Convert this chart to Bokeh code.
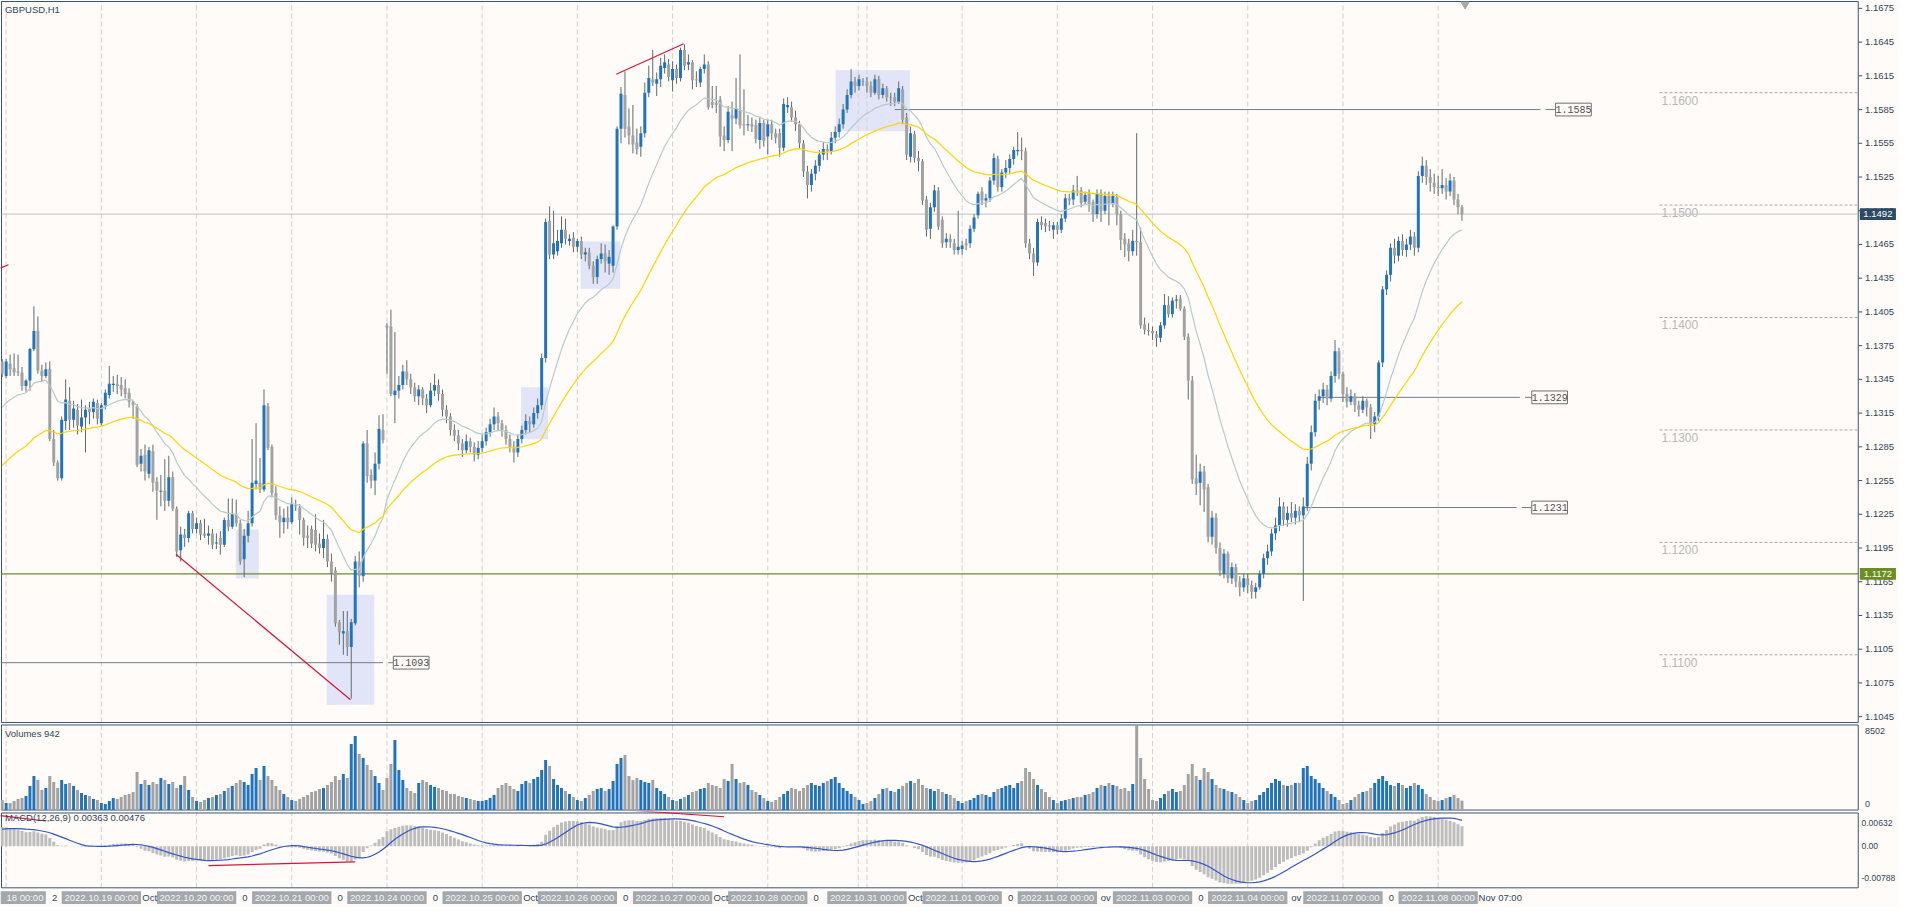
import numpy as np
from bokeh.plotting import figure
from bokeh.layouts import column
from bokeh.models import ColumnDataSource, Range1d
from bokeh.core.properties import value
from bokeh.embed import file_html
from bokeh.resources import INLINE

# ---------------- data (GBPUSD H1), prices in pips above 1.1000: (open, high, low, close)
oct17 = [(361, 363, 347, 350)]
oct18 = [
    (348,363,346,361),(359,367,348,354),(355,368,348,351),(352,367,348,351),(351,356,335,339),(339,345,334,344),
    (344,373,335,372),(372,410,370,388),(388,401,350,353),(353,358,343,348),(348,360,346,354),(354,361,290,292),
    (292,300,268,271),(271,273,255,257),(257,312,255,309),(308,345,300,327),(326,338,300,309),(309,326,302,319),
    (318,323,296,304),(303,327,298,311),(311,322,280,318),(319,325,305,316),(316,328,310,325),(324,327,305,310)]
oct19 = [
    (306,324,304,322),(322,336,318,333),(331,357,328,341),(340,348,334,341),(341,349,332,339),(340,347,330,336),
    (337,345,328,332),(333,337,320,325),(325,326,310,322),(321,323,267,269),(270,283,263,277),(278,287,255,263),
    (261,285,257,282),(281,287,245,253),(254,258,220,246),(245,260,232,246),(246,274,228,237),(237,277,232,258),
    (258,263,228,230),(230,232,187,192),(193,214,183,207),(207,212,196,204),(204,228,200,226),(226,228,208,212)]
oct20 = [
    (212,222,208,217),(217,220,202,207),(208,221,204,206),(206,215,198,208),(208,212,194,198),(199,208,194,200),
    (204,210,189,198),(198,222,196,220),(220,239,210,214),(214,239,212,225),(225,238,214,217),(217,220,180,183),
    (185,212,169,206),(206,228,200,217),(217,292,214,253),(252,306,247,255),(253,275,244,247),(247,336,245,322),
    (321,324,282,284),(285,287,240,244),(244,250,220,224),(224,232,204,218),(218,230,208,222),(222,232,212,218)]
oct21 = [
    (218,240,216,234),(233,238,228,232),(231,234,207,220),(220,222,197,204),(206,215,195,204),(212,215,195,199),
    (211,225,192,198),(199,208,190,195),(195,220,186,203),(203,207,178,183),(183,190,165,173),(175,178,125,128),
    (129,131,109,120),(119,139,100,121),(121,139,99,107),(107,132,61,129),(128,188,126,183),(183,192,160,170),
    (170,290,165,288),(288,300,253,259),(260,265,248,255),(255,280,242,270),(270,313,265,301),(300,314,288,291)]
oct24 = [
    (393,395,350,391),(392,407,330,332),(331,387,306,335),(335,348,328,340),(340,358,336,352),(352,362,340,345),
    (345,350,332,338),(338,342,325,330),(330,340,322,336),(336,338,322,328),(328,332,315,322),(322,342,320,335),
    (335,350,330,340),(340,345,326,332),(332,336,312,318),(318,322,306,312),(312,315,295,300),(300,305,290,295),
    (295,300,282,288),(288,292,276,282),(282,296,279,290),(290,293,280,285),(285,289,272,278),(278,290,274,284)]
oct25 = [
    (284,296,280,290),(290,302,286,298),(298,310,294,305),(305,320,300,312),(312,316,300,306),(306,309,294,300),
    (300,304,287,292),(292,296,280,285),(285,290,271,280),(280,296,276,292),(292,304,288,300),(300,314,296,308),
    (308,312,298,305),(305,320,302,315),(315,328,310,322),(322,368,318,364),(364,488,360,485),(486,499,452,456),
    (456,495,452,466),(459,478,455,468),(466,490,462,478),(478,488,465,470),(468,474,464,470),(471,476,458,463)]
oct26 = [
    (463,470,458,468),(468,472,452,456),(456,462,450,458),(458,462,443,446),(446,450,430,436),(436,455,430,452),
    (452,466,448,457),(457,465,440,450),(448,460,438,454),(446,482,440,481),(481,570,478,568),(568,605,555,599),
    (598,619,560,568),(570,586,554,562),(562,589,546,554),(556,568,545,550),(552,570,543,564),(564,609,560,600),
    (600,624,596,613),(612,638,606,609),(608,618,597,612),(612,631,605,624),(622,634,617,627),(625,630,610,614)]
oct27 = [
    (611,628,601,621),(621,625,608,613),(613,640,610,638),(638,643,620,624),(625,634,620,627),(627,629,603,611),
    (612,619,605,611),(609,623,605,621),(621,634,617,625),(625,628,585,587),(592,606,586,589),(591,606,582,589),
    (594,597,552,561),(562,570,548,558),(558,588,555,583),(580,592,548,577),(577,613,572,586),(584,634,568,571),
    (572,603,562,571),(571,580,566,572),(572,578,565,570),(571,576,555,559),(558,578,550,573),(573,576,552,557)]
oct28 = [
    (561,576,545,572),(572,576,558,564),(564,568,555,560),(564,568,543,551),(551,595,548,590),(587,596,582,589),
    (587,592,574,578),(578,584,566,572),(572,575,550,555),(555,558,525,530),(530,535,506,518),(518,532,512,528),
    (528,540,522,535),(535,549,530,545),(545,556,540,550),(550,554,540,548),(548,565,545,560),(560,570,555,565),
    (565,577,560,572),(572,590,568,585),(585,603,582,598),(598,621,595,610),(610,614,600,606),(606,616,602,612)]
sun30 = [(610, 613, 606, 610)]
oct31 = [
    (610,614,600,606),(606,610,596,600),(600,616,598,612),(612,615,594,598),(598,608,595,604),(604,606,592,596),
    (596,600,588,596),(596,600,588,592),(592,610,590,604),(603,606,572,576),(578,582,540,545),(543,570,538,564),
    (563,566,538,542),(542,548,530,539),(539,541,500,504),(505,508,472,478),(479,502,470,498),(498,518,494,513),
    (513,516,478,481),(487,490,462,466),(467,475,462,470),(470,474,462,467),(466,470,456,460),(460,495,456,463)]
nov01 = [
    (461,468,456,464),(466,470,460,464),(466,482,462,479),(479,492,476,489),(491,512,488,510),(512,516,500,504),
    (504,510,498,506),(506,525,503,522),(522,546,518,542),(541,544,512,516),(516,532,512,529),(529,540,524,533),
    (533,545,528,541),(541,552,536,549),(548,565,544,549),(549,560,540,548),(548,551,462,466),(466,470,452,457),
    (457,462,437,449),(449,488,446,485),(485,490,478,482),(484,488,476,481),(482,486,477,481),(478,485,470,482)]
nov02 = [
    (482,485,474,478),(478,492,475,488),(488,510,485,506),(506,510,500,504),(505,518,500,513),(513,526,508,512),
    (513,516,498,502),(503,512,500,509),(510,514,494,501),(503,505,485,492),(492,514,488,510),(510,514,485,495),
    (495,512,492,508),(508,512,482,501),(501,512,498,508),(507,510,482,492),(492,495,460,469),(470,475,454,465),
    (466,470,450,459),(459,478,455,468),(468,564,455,467),(467,480,390,393),(394,400,385,389),(389,395,384,388)]
nov03 = [
    (388,392,380,386),(385,388,374,382),(382,396,378,393),(393,421,390,411),(411,419,400,403),(403,418,400,415),
    (415,420,408,416),(417,420,406,408),(408,410,380,383),(383,386,327,344),(344,348,252,256),(257,278,242,252),
    (253,270,233,263),(263,268,227,247),(249,252,200,205),(205,228,198,222),(222,226,190,195),(195,200,170,175),
    (172,194,168,190),(190,192,164,168),(168,182,163,178),(178,181,160,165),(165,170,152,160),(160,172,156,168)]
nov04 = [
    (168,172,155,162),(162,166,150,156),(156,164,150,160),(160,175,158,172),(172,190,168,186),(186,198,180,192),
    (192,212,188,208),(208,222,202,215),(215,240,210,232),(232,236,215,220),(220,232,214,226),(226,236,218,222),
    (222,234,216,228),(228,232,218,224),(224,240,148,232),(232,276,228,270),(270,304,264,298),(298,332,294,326),
    (326,336,318,330),(330,342,324,336),(336,340,322,328),(328,352,325,348),(348,380,342,370),(370,373,345,350)]
nov07 = [
    (350,352,325,332),(332,338,320,325),(325,336,322,330),(330,333,316,322),(322,326,312,318),(318,330,315,326),
    (326,328,312,320),(320,323,292,305),(305,316,298,312),(312,362,308,360),(360,428,356,425),(425,442,420,438),
    (438,466,432,462),(462,470,448,455),(455,472,450,468),(468,474,455,460),(460,470,454,465),(465,478,460,472),
    (472,476,455,462),(462,530,458,526),(526,543,520,535),(535,540,518,525),(525,532,512,520),(520,528,510,516)]
nov08 = [(516,526,508,515),(515,532,510,518),(518,524,505,512),(512,528,508,522),(522,525,500,505),
         (505,510,492,498),(498,500,486,492)]

# tick volumes in hundreds
vol_oct17 = [10]
vol_oct18 = [7,7,9,11,12,14,24,34,30,20,22,34,28,22,30,26,27,24,20,17,15,14,11,10]
vol_oct19 = [7,6,9,12,11,13,15,16,18,38,26,30,25,28,26,32,30,26,28,22,25,34,20,13]
vol_oct20 = [9,8,10,12,13,15,16,19,22,24,27,30,28,25,36,42,30,44,34,30,24,20,16,13]
vol_oct21 = [10,9,11,13,15,18,19,21,22,25,28,34,30,36,32,66,74,56,52,45,40,34,27,20]
vol_oct24 = [32,46,70,40,30,22,19,17,27,30,28,25,23,22,20,19,16,16,14,13,12,11,10,9]
vol_oct25 = [9,10,12,15,22,25,27,24,21,19,26,29,27,31,33,40,50,44,31,25,22,19,16,13]
vol_oct26 = [10,9,12,15,19,21,22,19,21,29,46,52,55,34,30,32,30,28,27,30,22,19,16,13]
vol_oct27 = [10,9,11,13,15,18,19,21,22,27,25,24,22,31,29,46,31,27,28,25,20,18,15,12]
vol_oct28 = [9,8,10,13,16,19,22,21,19,22,25,27,25,24,27,29,31,33,27,22,19,16,13,10]
vol_sun30 = [6]
vol_oct31 = [7,9,12,16,21,22,19,18,21,24,27,29,27,31,25,22,21,19,21,18,16,15,12,9]
vol_nov01 = [7,9,10,12,15,16,15,13,18,21,22,24,25,22,27,29,42,38,31,25,21,18,13,10]
vol_nov02 = [7,9,10,11,12,13,13,15,16,18,22,25,24,27,25,24,21,22,19,26,85.02,52,31,21]
vol_nov03 = [10,9,12,16,19,21,18,19,25,36,46,34,30,42,38,31,25,22,21,19,18,16,13,10]
vol_nov04 = [7,9,10,15,18,22,27,31,29,25,24,25,27,27,42,44,34,31,27,22,19,16,13,10]
vol_nov07 = [6,7,10,13,16,18,19,22,27,31,34,29,25,24,27,25,22,24,27,25,21,16,13,10]
vol_nov08 = [9,10,12,13,15,12,9.42]

day_starts = [0, 24, 48, 72, 96, 120, 144, 168, 192, 217, 241, 265, 289, 313, 337, 361]
day_labels = ["18 00:00", "2022.10.19 00:00", "2022.10.20 00:00", "2022.10.21 00:00",
              "2022.10.24 00:00", "2022.10.25 00:00", "2022.10.26 00:00", "2022.10.27 00:00",
              "2022.10.28 00:00", "2022.10.31 00:00", "2022.11.01 00:00", "2022.11.02 00:00",
              "2022.11.03 00:00", "2022.11.04 00:00", "2022.11.07 00:00", "2022.11.08 00:00"]
gap_labels = ["2", "Oct", "0", "0", "0", "Oct", "0", "Oct", "0", "Oct", "0", "ov", "0", "ov", "0"]
last_time_label = "Nov 07:00"
extra_grid = [214.8]

price_ticks = [1.1045, 1.1075, 1.1105, 1.1135, 1.1165, 1.1195, 1.1225, 1.1255, 1.1285, 1.1315, 1.1345,
               1.1375, 1.1405, 1.1435, 1.1465, 1.1495, 1.1525, 1.1555, 1.1585, 1.1615, 1.1645, 1.1675]
round_levels = [1.1600, 1.1500, 1.1400, 1.1300, 1.1200, 1.1100]
level_lines = [  # (x_start, x_end, price, label)
    (224.0, 386.8, 1.1585, "1.1585"),
    (331.0, 381.6, 1.1329, "1.1329"),
    (327.0, 380.8, 1.1231, "1.1231"),
    (-1.4, 95.0, 1.1093, "1.1093")]
label_left = [390.6, 384.6, 384.6, 97.6]
boxes = [  # (left, right, bottom, top)
    (57.9, 63.7, 1.11678, 1.12115),
    (80.8, 92.8, 1.10555, 1.11535),
    (129.8, 136.6, 1.12917, 1.13381),
    (144.8, 154.8, 1.14256, 1.14676),
    (209.1, 227.8, 1.15656, 1.16199)]
red_lines = [((42.8, 86.8), (1.11894, 1.10600)),
             ((153.8, 170.8), (1.16164, 1.16435)),
             ((-1.5, 0.6), (1.14440, 1.14470))]
macd_red_lines = [((51.0, 88.0), (-0.00366, -0.00297)),
                  ((158.0, 181.0), (0.0068, 0.0056)),
                  ((-1.5, 10.0), (0.0058, 0.0048))]
bid_price = 1.1492
support_price = 1.1172
ema_fast_seed, ema_slow_seed = 1.1317, 1.1265
macd_seeds = (1.1330, 1.1292, 0.0032)
vol_max, macd_max, macd_min = 8502, 0.00632, -0.00788

# ---------------- assemble
days = [oct17, oct18, oct19, oct20, oct21, oct24, oct25, oct26, oct27, oct28, sun30,
        oct31, nov01, nov02, nov03, nov04, nov07, nov08]
vdays = [vol_oct17, vol_oct18, vol_oct19, vol_oct20, vol_oct21, vol_oct24, vol_oct25, vol_oct26,
         vol_oct27, vol_oct28, vol_sun30, vol_oct31, vol_nov01, vol_nov02, vol_nov03, vol_nov04,
         vol_nov07, vol_nov08]
bars = [b for d in days for b in d]
vols = [v * 100 for d in vdays for v in d]
n = len(bars)
x = np.arange(n) - 1
o = np.array([b[0] for b in bars]) / 10000 + 1.1
h = np.array([b[1] for b in bars]) / 10000 + 1.1
l = np.array([b[2] for b in bars]) / 10000 + 1.1
c = np.array([b[3] for b in bars]) / 10000 + 1.1
vols = (vols + [0] * n)[:n]

BG = "#fffbf8"
FRAME = "#3c5670"
GRID = "#d2d2d2"
BLUE = "#1f74c0"
GRAYC = "#a2a2a2"
WICK = "#5e6b6e"
FONT = "Liberation Sans"
TXT = "#2f4658"

up = c >= o
colors = [BLUE if u else GRAYC for u in up]
top = np.maximum(o, c)
bot = np.minimum(o, c)
flat = (top - bot) < 0.00002
top = np.where(flat, top + 0.000012, top)
bot = np.where(flat, bot - 0.000012, bot)

def ema(vals, period, seed):
    a = 2.0 / (period + 1)
    e = seed
    out = []
    for v in vals:
        e += a * (v - e)
        out.append(e)
    return np.array(out)

ema_fast = ema(c, 20, ema_fast_seed)
ema_slow = ema(c, 50, ema_slow_seed)
macd_main = ema(c, 12, macd_seeds[0]) - ema(c, 26, macd_seeds[1])
hist = [macd_seeds[2]] * 8 + list(macd_main)
macd_sig = np.array([np.mean(hist[i:i + 9]) for i in range(n)])

src = ColumnDataSource(dict(x=x, o=o, h=h, l=l, c=c, top=top, bot=bot, color=colors,
                            vol=vols, ef=ema_fast, es=ema_slow, mm=macd_main, ms=macd_sig))

# ---------------- geometry (bar units horizontally; each panel frame spans the full width)
X0, X1 = -1.425, 477.3          # whole canvas
PL, PR = -1.175, 466.9          # plot area left / right (right = axis line)
TICK_END, LAB_X = 467.9, 468.6
xr = Range1d(X0, X1)

def panel(height, y0, y1):
    p = figure(frame_width=1899, frame_height=height, x_range=xr, y_range=Range1d(y0, y1),
               output_backend="svg", toolbar_location=None, x_axis_location=None,
               y_axis_location=None, min_border=0, background_fill_color=BG,
               border_fill_color=BG, outline_line_color=None)
    p.grid.visible = False
    return p

def frame_and_grid(p, ybot, ytop):
    gx = day_starts + extra_grid
    p.segment(x0=gx, x1=gx, y0=[ybot] * len(gx), y1=[ytop] * len(gx),
              line_color=GRID, line_dash="5 3", line_width=1)
    p.segment(x0=[PL, PL, PL, PR], x1=[PR, PR, PL, PR], y0=[ytop, ybot, ybot, ybot],
              y1=[ytop, ybot, ytop, ytop], line_color=FRAME, line_width=1)

def txt(p, xs, ys, texts, size="9.5px", color=TXT, align="left", baseline="middle", font=FONT):
    p.text(x=xs, y=ys, text=texts, text_font=value(font), text_font_size=value(size),
           text_color=color, text_align=align, text_baseline=baseline)

# ---------------- price panel
PPX = 0.0000875                 # price per reference pixel
P_TOP, P_BOT = 1.16811, 1.10398
p1 = panel(723, 1.10389, 1.16820)

for (lft, rgt, b0, t0) in boxes:
    p1.quad(left=[lft], right=[rgt], bottom=[b0], top=[t0], fill_color="#e2e5f8", line_color=None)
frame_and_grid(p1, P_BOT, P_TOP)

p1.segment(x0=[PL], x1=[PR], y0=[bid_price], y1=[bid_price], line_color="#c2c2c2", line_width=1)
p1.segment(x0=[PL], x1=[PR], y0=[support_price], y1=[support_price], line_color="#6b8e23", line_width=1.2)

for lv in round_levels:
    p1.segment(x0=[416.8], x1=[PR], y0=[lv], y1=[lv], line_color="#a9a9a9", line_dash="3 2")
txt(p1, [417.3] * len(round_levels), [lv - 3 * PPX for lv in round_levels],
    [f"{lv:.4f}" for lv in round_levels], size="12px", color="#b8b8b8", baseline="top")

for (x0, x1, pr, t), lx in zip(level_lines, label_left):
    p1.segment(x0=[x0, x1 + 1.3], x1=[x1, lx], y0=[pr, pr], y1=[pr, pr], line_color="#6f7d8c", line_width=1)
    p1.quad(left=[lx], right=[lx + 9.0], bottom=[pr - 6.5 * PPX], top=[pr + 6.5 * PPX],
            fill_color=BG, line_color="#707070", line_width=1)
    txt(p1, [lx + 4.5], [pr], [t], size="10px", color="#505050", align="center", font="Liberation Mono")

p1.segment(x0="x", x1="x", y0="h", y1="l", source=src, line_color=WICK, line_width=1)
p1.vbar(x="x", top="top", bottom="bot", width=0.75, source=src, fill_color="color", line_color=None)

p1.line("x", "ef", source=src, line_color="#b5cccc", line_width=1.2)
p1.line("x", "es", source=src, line_color="#ffd400", line_width=1.2)

for xs, ys in red_lines:
    p1.line(list(xs), list(ys), line_color="#dc143c", line_width=1.2)

p1.scatter(x=[367.8], y=[1.16785], marker="inverted_triangle", size=8, color="#a8a8a8")

# price axis: tick marks, labels and the two highlighted prices
p1.segment(x0=[PR] * len(price_ticks), x1=[TICK_END] * len(price_ticks), y0=price_ticks,
           y1=price_ticks, line_color=FRAME)
txt(p1, [LAB_X] * len(price_ticks), price_ticks, [f"{t:.4f}" for t in price_ticks])
for pr, fill in [(bid_price, "#2c4a66"), (support_price, "#6b8e23")]:
    p1.quad(left=[467.3], right=[476.4], bottom=[pr - 6 * PPX], top=[pr + 6 * PPX],
            fill_color=fill, line_color=None)
    txt(p1, [471.85], [pr], [f"{pr:.4f}"], color="white", align="center")

txt(p1, [-0.3], [1.16741], ["GBPUSD,H1"])

# ---------------- volume panel
VPX = vol_max / 87.0
p2 = panel(88, -1.5 * VPX, vol_max + 1.5 * VPX)
frame_and_grid(p2, 0, vol_max)
p2.vbar(x="x", top="vol", bottom=0, width=0.75, source=src, fill_color="color", line_color=None)
txt(p2, [LAB_X, LAB_X], [vol_max - 6 * VPX, 6 * VPX], [f"{vol_max}", "0"], size="9px")
txt(p2, [-0.3], [vol_max - 9 * VPX], ["Volumes 942"])

# ---------------- MACD panel + time scale
MPX = (macd_max - macd_min) / 76.0
p3 = panel(96, macd_min - 20 * MPX, macd_max + 1.5 * MPX)
frame_and_grid(p3, macd_min, macd_max)
p3.vbar(x="x", top="mm", bottom=0, width=0.75, source=src, fill_color="#bdbdbd", line_color=None)
p3.line("x", "ms", source=src, line_color="#3355cc", line_width=1.2)
for xs, ys in macd_red_lines:
    p3.line(list(xs), list(ys), line_color="#dc143c", line_width=1.2)
txt(p3, [467.7] * 3, [macd_max - 10.6 * MPX, 0.0, macd_min + 10.4 * MPX],
    [f"{macd_max:.5f}", "0.00", f"{macd_min:.5f}"], size="8.6px")
txt(p3, [-0.3], [macd_max - 5 * MPX], ["MACD(12,26,9) 0.00363 0.00476"])

y_lab = macd_min - 10 * MPX
lefts = [X0] + [d - 10 for d in day_starts[1:]]
rights = [10.0] + [d + 10 for d in day_starts[1:]]
p3.quad(left=lefts, right=rights,
        bottom=[y_lab - 6.5 * MPX] * len(day_starts), top=[y_lab + 6.5 * MPX] * len(day_starts),
        fill_color="#a3a8ad", line_color=None)
txt(p3, [9.4], [y_lab], day_labels[:1], color="#f6f6f6", align="right")
txt(p3, day_starts[1:], [y_lab] * (len(day_starts) - 1), day_labels[1:], color="#f6f6f6", align="center")
txt(p3, [d + 12.2 for d in day_starts[:-1]], [y_lab] * (len(day_starts) - 1), gap_labels, align="center")
txt(p3, [371.2], [y_lab], [last_time_label])

layout = column(p1, p2, p3, spacing=0)
open("out.html", "w").write(file_html(layout, INLINE))
